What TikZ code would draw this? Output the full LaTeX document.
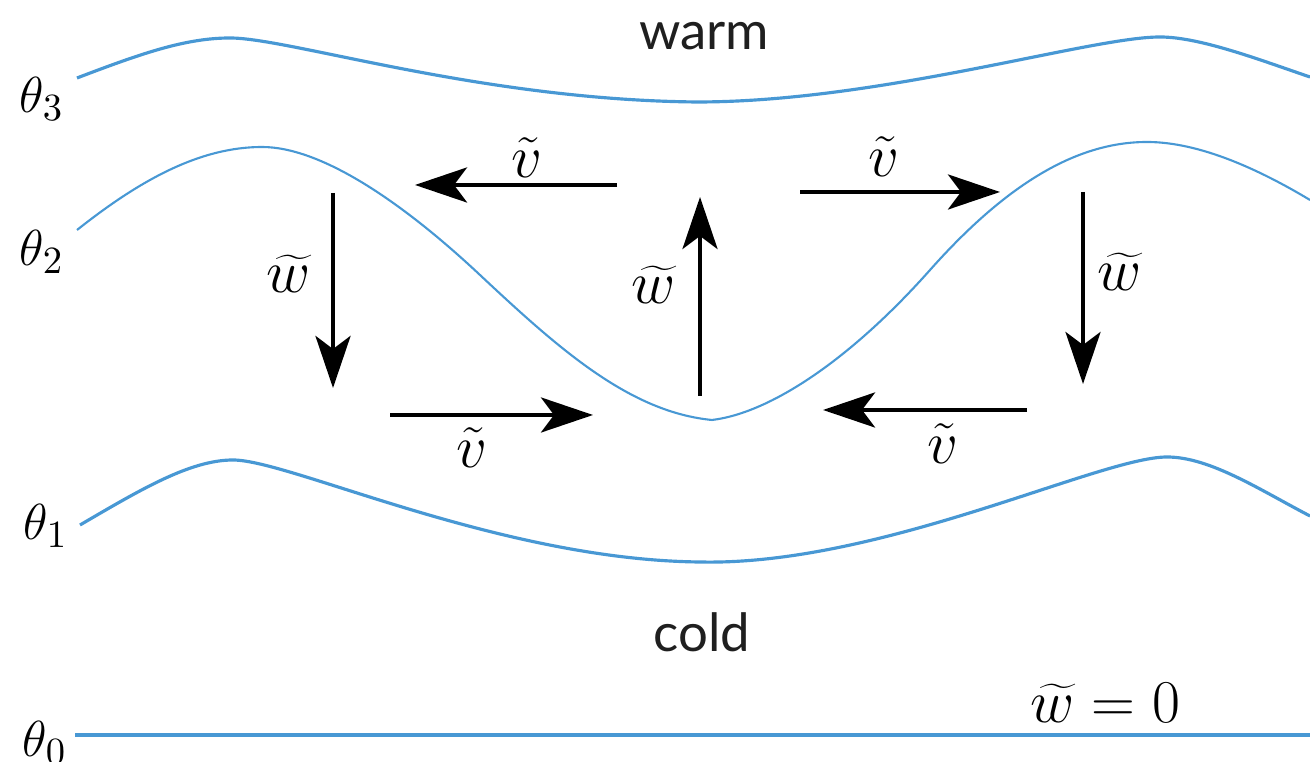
\documentclass[tikz,border=0pt]{standalone}
\usepackage{fontspec}
\newfontfamily\labfont{Lato}
\usetikzlibrary{arrows.meta}
\definecolor{isoblue}{RGB}{72,152,212}
\tikzset{
  iso/.style={draw=isoblue, line width=0.9pt, line join=miter},
  isothin/.style={draw=isoblue, line width=0.6pt, line join=miter},
  flow/.style={draw=black, line width=1.2pt, -{Stealth[length=5.2mm,width=3.5mm,inset=1.3mm]}},
  thlab/.style={anchor=base west, inner sep=0pt, font=\fontsize{15}{18}\selectfont},
  vlab/.style={inner sep=0pt, font=\fontsize{17}{20}\selectfont},
  word/.style={anchor=base, inner sep=0pt, font=\labfont\fontsize{15}{18}\selectfont, text=black!88}
}
\begin{document}
\begin{tikzpicture}[x=0.01cm, y=-0.01cm]
\useasboundingbox (0,0) rectangle (1310,762);

% isentropes
\draw[iso] (77,78) .. controls (140,54) and (185,38) .. (230,38)
  .. controls (290,38) and (480,100) .. (697,102)
  .. controls (880,102) and (1090,37) .. (1160,37)
  .. controls (1200,37) and (1260,60) .. (1310,77);

\draw[isothin] (77,230) .. controls (140,180) and (200,147) .. (262,147)
  .. controls (320,147) and (400,200) .. (480,275)
  .. controls (560,350) and (630,412) .. (712,420)
  .. controls (770,413) and (850,360) .. (930,270)
  .. controls (1010,180) and (1080,142) .. (1147,142)
  .. controls (1200,142) and (1260,170) .. (1310,200);

\draw[iso] (80,525) .. controls (140,490) and (190,460) .. (233,460)
  .. controls (290,460) and (500,560) .. (700,562)
  .. controls (880,566) and (1100,457) .. (1167,457)
  .. controls (1210,457) and (1260,490) .. (1310,516);

\coordinate (b0) at (75,735);
\coordinate (b1) at (1310,735);
\draw[iso] (b0) -- (b1);

% labels of isentropes
\node[thlab] (t3) at (19,113) {$\theta_3$};
\node[thlab] (t2) at (19,266) {$\theta_2$};
\node[thlab] (t1) at (23,540) {$\theta_1$};
\node[thlab] (t0) at (22,757) {$\theta_0$};

\node[word] (warm) at (704,50) {warm};
\node[word] (cold) at (702,652) {cold};

% flow arrows
\coordinate (a1s) at (333,193);  \coordinate (a1e) at (333,388);
\coordinate (a2s) at (617,185);  \coordinate (a2e) at (415,185);
\coordinate (a3s) at (700,396);  \coordinate (a3e) at (700,197);
\coordinate (a4s) at (800,192);  \coordinate (a4e) at (1000,192);
\coordinate (a5s) at (1083,192); \coordinate (a5e) at (1083,384);
\coordinate (a6s) at (390,415);  \coordinate (a6e) at (593,415);
\coordinate (a7s) at (1027,410); \coordinate (a7e) at (823,410);
\draw[flow] (a1s) -- (a1e);
\draw[flow] (a2s) -- (a2e);
\draw[flow] (a3s) -- (a3e);
\draw[flow] (a4s) -- (a4e);
\draw[flow] (a5s) -- (a5e);
\draw[flow] (a6s) -- (a6e);
\draw[flow] (a7s) -- (a7e);

\node[vlab] (w1) at (289,274) {$\widetilde{w}$};
\node[vlab] (v2) at (527,158) {$\tilde{v}$};
\node[vlab] (w3) at (654,285) {$\widetilde{w}$};
\node[vlab] (v4) at (884,157) {$\tilde{v}$};
\node[vlab] (w5) at (1120,272) {$\widetilde{w}$};
\node[vlab] (v6) at (472,448) {$\tilde{v}$};
\node[vlab] (v7) at (943,444) {$\tilde{v}$};

\node[vlab, anchor=base west] (wz) at (1030,722) {$\widetilde{w}=0$};
\end{tikzpicture}
\end{document}
